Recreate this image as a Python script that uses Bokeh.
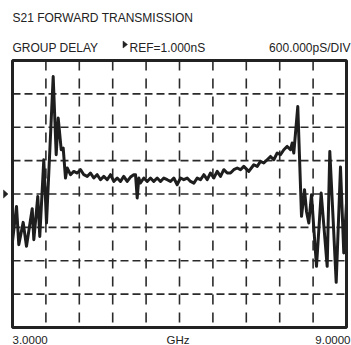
from bokeh.plotting import figure
from bokeh.models import Range1d, Label, ColumnDataSource
from bokeh.embed import file_html
from bokeh.resources import INLINE

# Sweep: frequency (GHz) and group delay (ns)
freq_ghz = [3.000, 3.072, 3.113, 3.192, 3.251, 3.354, 3.383, 3.454, 3.490, 3.562,
            3.611, 3.731, 3.785, 3.821, 3.875, 3.911, 3.952, 3.983, 4.042, 4.101,
            4.162, 4.222, 4.281, 4.342, 4.401, 4.460, 4.522, 4.581, 4.640, 4.701,
            4.760, 4.820, 4.881, 4.940, 4.999, 5.060, 5.120, 5.179, 5.210, 5.240,
            5.269, 5.299, 5.359, 5.420, 5.479, 5.538, 5.599, 5.659, 5.718, 5.779,
            5.838, 5.898, 5.959, 6.018, 6.077, 6.138, 6.198, 6.258, 6.318, 6.378,
            6.437, 6.498, 6.557, 6.616, 6.677, 6.737, 6.796, 6.857, 6.916, 6.975,
            7.037, 7.096, 7.155, 7.245, 7.335, 7.396, 7.455, 7.514, 7.575, 7.635,
            7.694, 7.755, 7.814, 7.874, 7.935, 7.994, 8.024, 8.053, 8.125, 8.192,
            8.246, 8.282, 8.323, 8.371, 8.461, 8.545, 8.653, 8.700, 8.815, 8.892,
            8.951, 9.000]
delay_ns = [0.149, 0.777, 0.089, 0.490, 0.059, 0.736, 0.179, 0.957, 0.238, 1.616,
            0.479, 3.113, 1.706, 2.365, 1.796, 1.826, 1.287, 1.467, 1.347, 1.406,
            1.377, 1.437, 1.347, 1.316, 1.377, 1.287, 1.347, 1.257, 1.316, 1.257,
            1.347, 1.226, 1.287, 1.226, 1.316, 1.226, 1.305, 1.347, 1.347, 0.928,
            1.287, 1.198, 1.287, 1.226, 1.287, 1.226, 1.287, 1.226, 1.287, 1.257,
            1.226, 1.287, 1.167, 1.287, 1.257, 1.287, 1.226, 1.196, 1.287, 1.257,
            1.347, 1.257, 1.377, 1.287, 1.406, 1.316, 1.437, 1.377, 1.377, 1.437,
            1.467, 1.437, 1.496, 1.406, 1.526, 1.496, 1.586, 1.557, 1.616, 1.675,
            1.616, 1.737, 1.706, 1.796, 1.855, 1.796, 1.916, 1.737, 2.574, 0.598,
            1.077, 0.682, 0.479, 0.987, -0.301, 1.018, -0.301, 1.765, -0.588, 1.485,
            -0.060, 0.838]

start_ghz = 3.0
stop_ghz = 9.0
ref_ns = 1.0
per_div_ns = 0.6
n_xdiv = 10
n_ydiv = 8

title_text = "S21 FORWARD TRANSMISSION"
mode_text = "GROUP DELAY"
ref_text = "REF=1.000nS"
scale_text = "600.000pS/DIV"
start_text = "3.0000"
unit_text = "GHz"
stop_text = "9.0000"

# ---- layout (pixels) ----
W, H = 351, 345
BOX_L, BOX_R, BOX_T, BOX_B = 12, 346, 60, 327
FONT = "Liberation Sans"
COL = "#222222"

ybot = ref_ns - per_div_ns * n_ydiv / 2
ytop = ref_ns + per_div_ns * n_ydiv / 2
xstep = (stop_ghz - start_ghz) / n_xdiv

sx = (BOX_R - BOX_L) / (stop_ghz - start_ghz)   # px per GHz
sy = (BOX_B - BOX_T) / (ytop - ybot)            # px per ns
x0 = start_ghz - BOX_L / sx
x1 = stop_ghz + (W - BOX_R) / sx
y1 = ytop + BOX_T / sy
y0 = ybot - (H - BOX_B) / sy


def X(px):
    return x0 + px / sx


def Y(py):
    return y1 - py / sy


p = figure(width=W, height=H, output_backend="svg", toolbar_location=None,
           x_range=Range1d(x0, x1), y_range=Range1d(y0, y1),
           x_axis_location=None, y_axis_location=None,
           min_border=0, min_border_left=0, min_border_right=0,
           min_border_top=0, min_border_bottom=0)
p.title.visible = False
p.xgrid.visible = False
p.ygrid.visible = False
p.outline_line_color = None
p.background_fill_color = "white"
p.border_fill_color = "white"

# graticule
xt = [start_ghz + i * xstep for i in range(1, n_xdiv)]
yt = [ybot + i * per_div_ns for i in range(1, n_ydiv)]
p.segment(x0=xt, y0=[ytop] * len(xt), x1=xt, y1=[ybot] * len(xt),
          line_color="#2a2a2a", line_width=1.6, line_dash="10 8")
p.segment(x0=[start_ghz] * len(yt), y0=yt, x1=[stop_ghz] * len(yt), y1=yt,
          line_color="#2a2a2a", line_width=1.6, line_dash="8 4")

# trace
src = ColumnDataSource(dict(f=freq_ghz, d=delay_ns))
p.line("f", "d", source=src, line_color="#1e1e1e", line_width=3, line_join="round")

# frame
p.quad(left=[start_ghz], right=[stop_ghz], bottom=[ybot], top=[ytop],
       fill_color=None, line_color="#222222", line_width=3)


def lab(x, y, t, align="left", size="12px"):
    p.add_layout(Label(x=X(x), y=Y(y), text=t, text_align=align,
                       text_baseline="alphabetic", text_font=FONT,
                       text_font_size=size, text_color=COL))


def arrow(xl, yc, w, h):
    p.patch([X(xl), X(xl + w), X(xl)], [Y(yc - h / 2), Y(yc), Y(yc + h / 2)],
            fill_color=COL, line_color=COL, line_width=0.5)


lab(12, 17.5, title_text)
lab(12, 47.5, mode_text)
arrow(122.5, 44, 4.5, 7)
lab(129, 47.5, ref_text)
lab(350, 47.5, scale_text, align="right")
lab(12, 339, start_text, size="11.5px")
lab(177.5, 339, unit_text, align="center", size="11.5px")
lab(350, 339, stop_text, align="right", size="11.5px")
arrow(3, BOX_T + (ytop - ref_ns) * sy, 4.5, 8)

open("out.html", "w").write(file_html(p, INLINE))
